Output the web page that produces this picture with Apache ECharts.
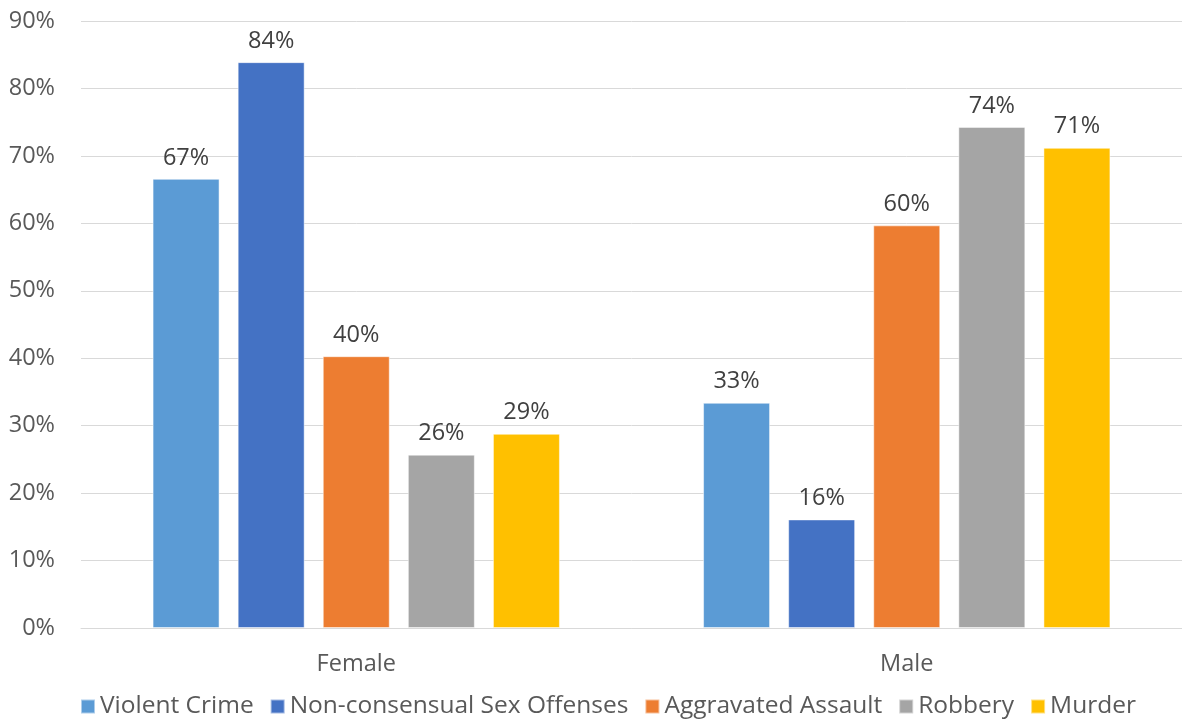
<!DOCTYPE html>
<html>
<head>
<meta charset="utf-8">
<script src="https://cdn.jsdelivr.net/npm/echarts@6/dist/echarts.min.js"></script>
<style>html,body{margin:0;padding:0;background:#fff;}#c{width:1182px;height:721px;}</style>
</head>
<body>
<div id="c"></div>
<script>
var categories = ['Female', 'Male'];
var seriesNames = ['Violent Crime', 'Non-consensual Sex Offenses', 'Aggravated Assault', 'Robbery', 'Murder'];
var violentCrime = [66.6, 33.4];
var sexOffenses = [83.9, 16.1];
var aggravatedAssault = [40.3, 59.7];
var robbery = [25.7, 74.3];
var murder = [28.8, 71.2];
var yTicks = [0, 10, 20, 30, 40, 50, 60, 70, 80, 90];
var colors = ['#5B9BD5', '#4472C4', '#ED7D31', '#A5A5A5', '#FFC000'];

var values = [violentCrime, sexOffenses, aggravatedAssault, robbery, murder];
var FONT = 'Open Sans';
var chart = echarts.init(document.getElementById('c'));
chart.setOption({
  animation: false,
  color: colors,
  grid: { left: 81, right: -2, top: 21, bottom: 93, containLabel: false },
  legend: {
    bottom: -3, left: 75,
    itemWidth: 14, itemHeight: 14, itemGap: 16,
    icon: 'rect',
    textStyle: { fontFamily: FONT, fontSize: 24.5, color: '#595959' },
    data: seriesNames
  },
  xAxis: {
    type: 'category', data: categories,
    axisLine: { lineStyle: { color: '#D9D9D9', width: 1 } },
    axisTick: { show: false },
    axisLabel: { fontFamily: FONT, fontSize: 23.5, color: '#595959', margin: 24 }
  },
  yAxis: {
    type: 'value', min: yTicks[0], max: yTicks[yTicks.length - 1], interval: 10,
    axisLine: { show: false }, axisTick: { show: false },
    splitLine: { lineStyle: { color: '#D9D9D9', width: 1 } },
    axisLabel: { fontFamily: FONT, fontSize: 23.5, color: '#595959', margin: 26, formatter: function (v) { return v + '%'; } }
  },
  series: seriesNames.map(function (n, i) {
    return {
      name: n, type: 'bar', data: values[i],
      barWidth: 67, barGap: '27%',
      itemStyle: { borderColor: 'rgba(255,255,255,0.5)', borderWidth: 1 },
      label: {
        show: true, position: 'top', distance: 9,
        fontFamily: FONT, fontSize: 23.5, color: '#404040',
        formatter: function (p) { return Math.round(p.value) + '%'; }
      }
    };
  })
});
</script>
</body>
</html>
